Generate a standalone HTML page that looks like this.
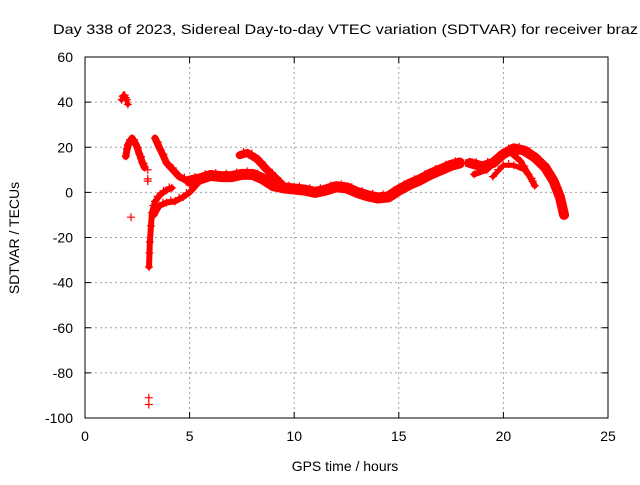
<!DOCTYPE html>
<html><head><meta charset="utf-8"><style>
body{margin:0;background:#fff;}
svg text{font-family:"Liberation Sans",sans-serif;fill:#000;}
</style></head><body>
<svg id="chart" width="640" height="480" xmlns="http://www.w3.org/2000/svg">
<text x="53" y="34" font-size="14" textLength="585" lengthAdjust="spacingAndGlyphs">Day 338 of 2023, Sidereal Day-to-day VTEC variation (SDTVAR) for receiver braz</text>
<g id="grid"></g>
<g id="axes"></g>
<g id="marks"></g>
<text x="345" y="471" font-size="14" text-anchor="middle">GPS time / hours</text>
<text transform="translate(19,238) rotate(-90)" font-size="14" text-anchor="middle">SDTVAR / TECUs</text>
</svg>
<script>
const xTicks=[0,5,10,15,20,25];
const yTicks=[60,40,20,0,-20,-40,-60,-80,-100];
const trackA=[[1.75,41],[1.85,43],[1.95,42],[2.05,39]];
const trackB=[[1.95,16],[2.05,21],[2.25,24],[2.45,21],[2.6,17],[2.75,13],[2.85,11]];
const trackC=[[3.06,-33],[3.1,-22],[3.2,-9],[3.35,-4],[3.6,-1],[3.9,1],[4.15,2]];
const trackC2=[[3.3,-10],[3.55,-6],[3.9,-4.5],[4.3,-4],[4.7,-2],[5.0,0],[5.3,3]];
const trackD=[[3.35,24],[3.6,19],[3.9,13],[4.5,7],[5.0,4.5],[5.5,5]];
const trackMain=[[5,5],[5.5,6],[6,7.5],[6.5,7],[7,7],[7.5,8],[8,8],[8.5,6],[9,3],[9.5,2],[10,1.5],[10.5,1],[11,0],[11.5,1],[12,2.5],[12.5,2],[13,0],[13.5,-1.5],[14,-2.5],[14.5,-2],[15,1],[15.5,3.5],[16,5.5],[16.5,8],[17,10],[17.5,12],[17.9,13]];
const trackHump=[[7.4,16.5],[7.75,17.5],[8.2,15],[8.7,10],[9.2,5.5],[9.5,2.5]];
const trackE=[[18.4,13],[19,11.5],[19.5,13],[20,17],[20.5,19.5],[21,18.5],[21.5,15.5],[22,11],[22.4,5],[22.7,-2],[22.9,-10]];
const trackF=[[18.6,8],[19.2,10],[19.8,15],[20.3,18],[20.8,14],[21.2,8],[21.5,3]];
const trackG=[[19.5,7],[20,12],[20.5,12],[21,10],[21.4,5]];
const singles=[[2.2,-11],[3.0,10],[3.0,6],[3.0,5],[3.05,-91],[3.05,-94],[18.2,13]];
const tracks=[trackA,trackB,trackC,trackC2,trackD,trackMain,trackHump,trackE,trackF,trackG];
const widths=[5,7,6,6,7,11,8,10,6,5];

const L=85,R=608,T=57,B=418;
const xs=t=>L+(t-0)/25*(R-L);
const ys=v=>T+(60-v)/160*(B-T);
const NS='http://www.w3.org/2000/svg';
const grid=document.getElementById('grid'),axes=document.getElementById('axes'),marks=document.getElementById('marks');
function mk(tag,attrs,parent){const e=document.createElementNS(NS,tag);for(const k in attrs)e.setAttribute(k,attrs[k]);parent.appendChild(e);return e;}
xTicks.forEach(t=>{
  const x=xs(t);
  if(t>0&&t<25){const g=mk('line',{x1:x,x2:x,y1:T,y2:B,stroke:'#a0a0a0','stroke-dasharray':'2,3'},grid);
  
  }
  mk('line',{x1:x,x2:x,y1:B,y2:B-6,stroke:'#000'},axes);
  mk('line',{x1:x,x2:x,y1:T,y2:T+6,stroke:'#000'},axes);
  const lb=mk('text',{x:x,y:B+23,'font-size':14,'text-anchor':'middle'},axes);lb.textContent=t;
  
  
});
yTicks.forEach(v=>{
  const y=ys(v);
  if(v<60&&v>-100){const g=mk('line',{x1:L,x2:R,y1:y,y2:y,stroke:'#a0a0a0','stroke-dasharray':'2,3'},grid);
  
  }
  mk('line',{x1:L,x2:L+6,y1:y,y2:y,stroke:'#000'},axes);
  mk('line',{x1:R,x2:R-6,y1:y,y2:y,stroke:'#000'},axes);
  const lb=mk('text',{x:L-12,y:y+5,'font-size':14,'text-anchor':'end'},axes);lb.textContent=v;
  
  
});
const fr=mk('rect',{x:L,y:T,width:R-L,height:B-T,fill:'none',stroke:'#000'},axes);


function plus(t,v){
  const x=xs(t),y=ys(v);
  const p=mk('path',{d:`M${x-4},${y}H${x+4}M${x},${y-4}V${y+4}`,stroke:'#f00','stroke-width':1.2},marks);
  
  
}
tracks.forEach((tr,i)=>{
  const pl=mk('polyline',{points:tr.map(p=>xs(p[0])+','+ys(p[1])).join(' '),fill:'none',stroke:'#f00','stroke-width':widths[i],'stroke-linejoin':'round','stroke-linecap':'round'},marks);
  
  
  tr.forEach((p,j)=>{
    plus(p[0],p[1]);
    if(j>0){plus((p[0]+tr[j-1][0])/2,(p[1]+tr[j-1][1])/2+widths[i]*0.12);}
  });
});
singles.forEach(p=>plus(p[0],p[1]));
</script>
</body></html>
